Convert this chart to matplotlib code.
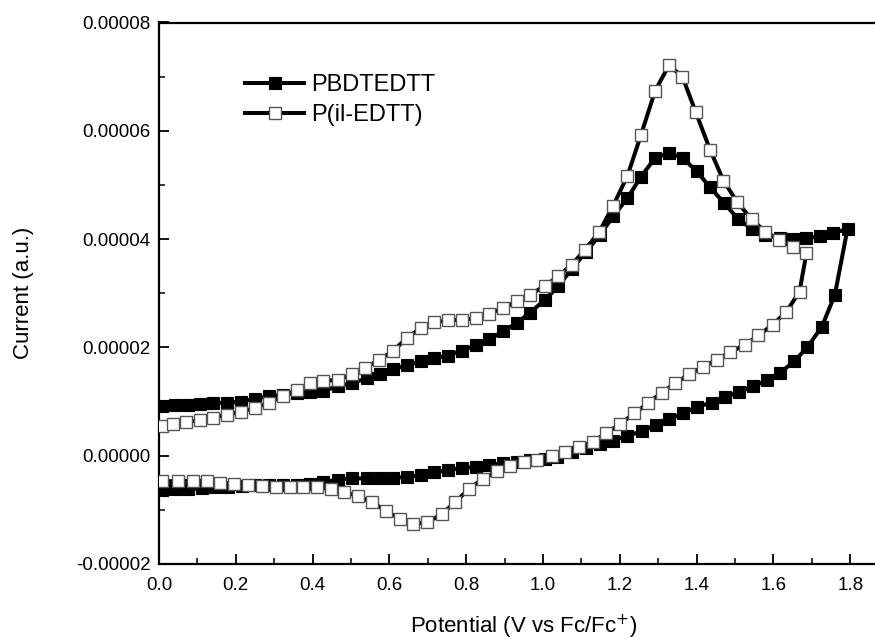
import matplotlib
matplotlib.use("Agg")
import matplotlib.pyplot as plt
from matplotlib.ticker import MultipleLocator, FormatStrFormatter
import numpy as np

plt.rcParams['font.family'] = ['Liberation Sans', 'DejaVu Sans']

# PBDTEDTT (filled squares): forward scan then reverse scan; current in 1e-5 units
pbdt_x = [0.007, 0.042, 0.076, 0.107, 0.141, 0.178, 0.213, 0.250, 0.286, 0.322,
          0.359, 0.393, 0.428, 0.465, 0.502, 0.541, 0.576, 0.610, 0.645, 0.682,
          0.717, 0.753, 0.788, 0.826, 0.860, 0.897, 0.932, 0.966, 1.005, 1.040,
          1.075, 1.112, 1.148, 1.183, 1.220, 1.255, 1.292, 1.328, 1.364, 1.400,
          1.435, 1.471, 1.507, 1.543, 1.578, 1.617, 1.652, 1.686, 1.721, 1.756,
          1.793,
          1.760, 1.726, 1.688, 1.654, 1.617, 1.583, 1.546, 1.511, 1.474, 1.439,
          1.400, 1.365, 1.329, 1.294, 1.257, 1.220, 1.183, 1.148, 1.112, 1.075,
          1.036, 1.005, 0.966, 0.932, 0.897, 0.860, 0.826, 0.788, 0.753, 0.717,
          0.682, 0.645, 0.610, 0.576, 0.541, 0.502, 0.465, 0.428, 0.393, 0.359,
          0.322, 0.286, 0.250, 0.215, 0.180, 0.146, 0.111, 0.076, 0.042, 0.007]
pbdt_y = [0.91, 0.93, 0.94, 0.96, 0.97, 0.98, 1.00, 1.05, 1.10, 1.13,
          1.16, 1.17, 1.20, 1.28, 1.34, 1.43, 1.50, 1.60, 1.67, 1.74,
          1.80, 1.85, 1.94, 2.04, 2.15, 2.30, 2.45, 2.64, 2.88, 3.13,
          3.45, 3.76, 4.08, 4.42, 4.76, 5.15, 5.50, 5.59, 5.50, 5.25,
          4.96, 4.67, 4.38, 4.19, 4.08, 4.02, 4.00, 4.02, 4.05, 4.11,
          4.19,
          2.97, 2.38, 2.00, 1.74, 1.53, 1.39, 1.28, 1.18, 1.08, 0.98,
          0.90, 0.78, 0.68, 0.57, 0.45, 0.37, 0.28, 0.22, 0.14, 0.06,
          -0.03, -0.06, -0.08, -0.11, -0.14, -0.17, -0.21, -0.23, -0.26, -0.31,
          -0.36, -0.39, -0.41, -0.41, -0.42, -0.42, -0.44, -0.49, -0.53, -0.54,
          -0.55, -0.55, -0.55, -0.56, -0.57, -0.58, -0.60, -0.62, -0.62, -0.63]

# P(il-EDTT) (open squares)
pil_x = [0.007, 0.036, 0.071, 0.107, 0.141, 0.178, 0.213, 0.250, 0.286, 0.322,
         0.359, 0.393, 0.428, 0.465, 0.502, 0.536, 0.574, 0.610, 0.645, 0.682,
         0.717, 0.753, 0.788, 0.826, 0.860, 0.897, 0.932, 0.966, 1.005, 1.040,
         1.075, 1.109, 1.147, 1.183, 1.220, 1.255, 1.292, 1.328, 1.363, 1.398,
         1.435, 1.470, 1.506, 1.543, 1.578, 1.615, 1.650, 1.686,
         1.668, 1.633, 1.598, 1.561, 1.526, 1.487, 1.452, 1.416, 1.381, 1.344,
         1.309, 1.273, 1.238, 1.201, 1.164, 1.129, 1.095, 1.057, 1.023, 0.985,
         0.951, 0.914, 0.879, 0.843, 0.806, 0.771, 0.736, 0.699, 0.662, 0.628,
         0.591, 0.555, 0.519, 0.483, 0.448, 0.412, 0.376, 0.341, 0.305, 0.268,
         0.233, 0.195, 0.159, 0.124, 0.088, 0.050, 0.007]
pil_y = [0.54, 0.59, 0.62, 0.66, 0.70, 0.76, 0.81, 0.88, 0.98, 1.10,
         1.22, 1.34, 1.38, 1.40, 1.50, 1.62, 1.77, 1.94, 2.17, 2.36,
         2.46, 2.50, 2.51, 2.54, 2.62, 2.73, 2.85, 2.97, 3.14, 3.31,
         3.53, 3.80, 4.14, 4.62, 5.17, 5.92, 6.74, 7.21, 7.00, 6.34,
         5.65, 5.08, 4.68, 4.37, 4.14, 3.99, 3.85, 3.74,
         3.03, 2.65, 2.42, 2.22, 2.05, 1.91, 1.77, 1.64, 1.50, 1.34,
         1.16, 0.97, 0.78, 0.59, 0.41, 0.26, 0.16, 0.06, -0.01, -0.08,
         -0.12, -0.19, -0.29, -0.43, -0.62, -0.86, -1.08, -1.23, -1.26, -1.17,
         -1.02, -0.86, -0.75, -0.67, -0.62, -0.58, -0.58, -0.58, -0.58, -0.56,
         -0.54, -0.53, -0.50, -0.47, -0.46, -0.47, -0.47]

series_labels = ["PBDTEDTT", "P(il-EDTT)"]
scale = 1e-5

fig = plt.figure(figsize=(8.75, 6.44), dpi=100)
ax = fig.add_axes([159/875, 80/644, 729.6/875, 541.5/644])

ax.plot(pbdt_x, np.array(pbdt_y) * scale, color='black', lw=2.9,
        marker='s', ms=8.3, mfc='black', mec='black', mew=0.8,
        label=series_labels[0], zorder=3)
ax.plot(pil_x, np.array(pil_y) * scale, color='black', lw=2.9,
        marker='s', ms=8.3, mfc='white', mec='#555555', mew=1.0,
        label=series_labels[1], zorder=4)

ax.set_xlim(0, 1.9)
ax.set_ylim(-0.00002, 0.00008)
ax.xaxis.set_major_locator(MultipleLocator(0.2))
ax.xaxis.set_minor_locator(MultipleLocator(0.1))
ax.yaxis.set_major_locator(MultipleLocator(0.00002))
ax.yaxis.set_minor_locator(MultipleLocator(0.00001))
ax.xaxis.set_major_formatter(FormatStrFormatter('%.1f'))
ax.yaxis.set_major_formatter(FormatStrFormatter('%.5f'))

ax.tick_params(which='major', direction='in', length=7, width=1.3,
               labelsize=13.5, top=False, right=False)
ax.tick_params(which='minor', direction='in', length=4, width=1.1,
               top=False, right=False)
ax.tick_params(axis='x', which='major', pad=9)
ax.tick_params(axis='y', which='major', pad=6)
for sp in ax.spines.values():
    sp.set_linewidth(1.6)

ax.set_xlabel('Potential (V vs Fc/Fc$^{+}$)', fontsize=16, labelpad=14)
ax.set_ylabel('Current (a.u.)', fontsize=16, labelpad=30)

ax.legend(loc='upper left', bbox_to_anchor=(0.118, 0.905), frameon=False,
          fontsize=17, handlelength=2.5, handletextpad=0.3,
          labelspacing=0.35, borderpad=0, borderaxespad=0)

fig.savefig('out.png', dpi=100)
